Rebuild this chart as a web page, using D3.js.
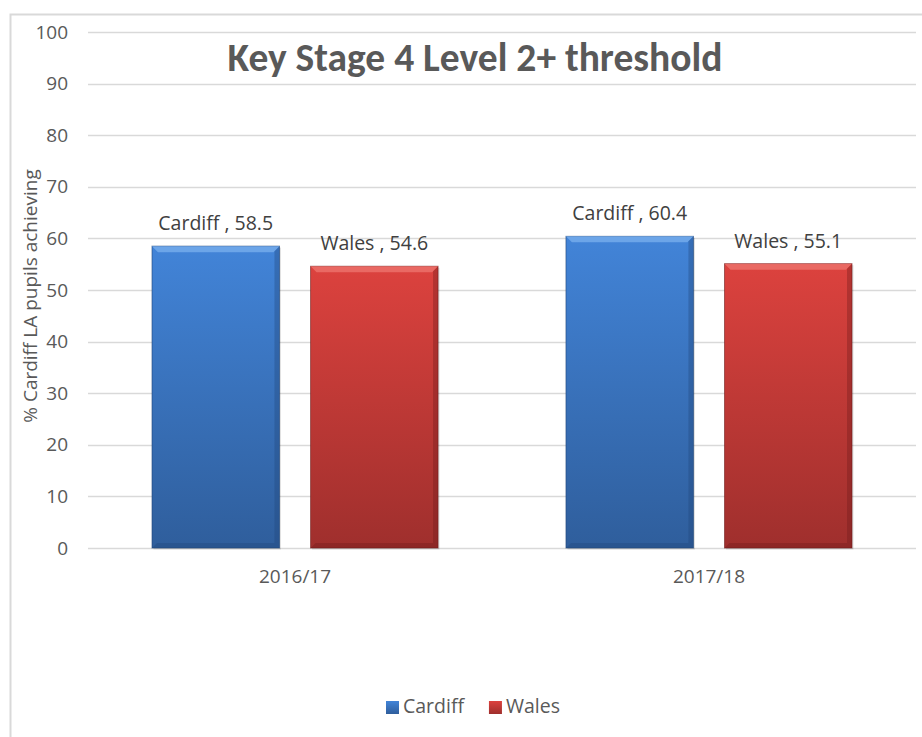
<!DOCTYPE html>
<html>
<head>
<meta charset="utf-8">
<script src="https://cdn.jsdelivr.net/npm/d3@7"></script>
<style>
  body { margin: 0; background: #fff; }
  text { font-family: "Open Sans", "Liberation Sans", sans-serif; }
  .title { font-family: Carlito, Calibri, Lato, "Open Sans", sans-serif; }
</style>
</head>
<body>
<div id="chart"></div>
<script>
// Data
var categories = ["2016/17", "2017/18"];
var seriesNames = ["Cardiff", "Wales"];
var cardiffValues = [58.5, 60.4];
var walesValues = [54.6, 55.1];
var yTicks = [0, 10, 20, 30, 40, 50, 60, 70, 80, 90, 100];
var titleText = "Key Stage 4 Level 2+ threshold";
var yLabel = "% Cardiff LA pupils achieving";

var svgW = 922, svgH = 737;
var margin = { top: 32, right: 6, bottom: 189, left: 88 };
var w = svgW - margin.left - margin.right;
var h = svgH - margin.top - margin.bottom;

var svg = d3.select("#chart").append("svg")
  .attr("width", svgW)
  .attr("height", svgH);

// Gradients for the bevelled bars
var defs = svg.append("defs");
var palette = {
  Cardiff: { top: "#4284d8", bottom: "#2f5e9c", light: "#7fb3f0", dark: "#1f4577" },
  Wales: { top: "#dc423e", bottom: "#9f2f2d", light: "#f07a74", dark: "#6e1b1a" }
};
seriesNames.forEach(function (s) {
  var g = defs.append("linearGradient")
    .attr("id", "grad-" + s)
    .attr("x1", 0).attr("y1", 0).attr("x2", 0).attr("y2", 1);
  g.append("stop").attr("offset", "0%").attr("stop-color", palette[s].top);
  g.append("stop").attr("offset", "100%").attr("stop-color", palette[s].bottom);
});

// Chart border (only top and left visible)
svg.append("path")
  .attr("d", "M10.5," + svgH + "V14.5H" + svgW)
  .attr("fill", "none")
  .attr("stroke", "#d9d9d9")
  .attr("stroke-width", 2);

var group = svg.append("g")
  .attr("transform", "translate(" + margin.left + "," + margin.top + ")");

// Scales
var x0 = d3.scaleBand()
  .domain(categories)
  .range([0, w])
  .paddingInner(0.309)
  .paddingOuter(0.1546);

var x1 = d3.scaleBand()
  .domain(seriesNames)
  .range([0, x0.bandwidth()])
  .paddingInner(0.196);

var yScale = d3.scaleLinear()
  .domain([0, 100])
  .range([h, 0]);

// Gridlines
group.selectAll(".grid")
  .data(yTicks)
  .enter().append("line")
  .attr("class", "grid")
  .attr("x1", 0)
  .attr("x2", w)
  .attr("y1", d => Math.round(yScale(d)) + 0.5)
  .attr("y2", d => Math.round(yScale(d)) + 0.5)
  .attr("stroke", "#d9d9d9")
  .attr("stroke-width", 1.5);

// Y-axis tick labels
var yAxis = d3.axisLeft(yScale).tickValues(yTicks).tickSize(0).tickPadding(20);
var yG = group.append("g").call(yAxis);
yG.select(".domain").remove();
yG.selectAll("text")
  .attr("fill", "#595959")
  .style("font-family", "'Open Sans', sans-serif")
  .style("font-size", "19px");

// X-axis labels
var xAxis = d3.axisBottom(x0).tickSize(0).tickPadding(22);
var xG = group.append("g")
  .attr("transform", "translate(0," + h + ")")
  .call(xAxis);
xG.select(".domain").remove();
xG.selectAll("text")
  .attr("fill", "#595959")
  .style("font-family", "'Open Sans', sans-serif")
  .style("font-size", "19px");

// Bars
var rows = categories.map(function (c, i) {
  return { category: c, values: [
    { series: "Cardiff", value: cardiffValues[i] },
    { series: "Wales", value: walesValues[i] }
  ] };
});

var catG = group.selectAll(".cat")
  .data(rows)
  .enter().append("g")
  .attr("class", "cat")
  .attr("transform", d => "translate(" + x0(d.category) + ",0)");

var barG = catG.selectAll(".bar")
  .data(d => d.values)
  .enter().append("g")
  .attr("class", "bar");

// soft shadow
barG.append("rect")
  .attr("x", d => x1(d.series) + 1.5)
  .attr("y", d => yScale(d.value) + 1.5)
  .attr("width", x1.bandwidth())
  .attr("height", d => h - yScale(d.value))
  .attr("fill", "#000")
  .attr("opacity", 0.12);

barG.append("rect")
  .attr("x", d => x1(d.series))
  .attr("y", d => yScale(d.value))
  .attr("width", x1.bandwidth())
  .attr("height", d => h - yScale(d.value))
  .attr("fill", d => "url(#grad-" + d.series + ")")
  .attr("stroke", d => palette[d.series].dark)
  .attr("stroke-opacity", 0.6)
  .attr("stroke-width", 1);

// bevel: light top strip
barG.append("path")
  .attr("d", function (d) {
    var x = x1(d.series), y = yScale(d.value), bw = x1.bandwidth(), b = 6;
    return "M" + x + "," + y + "H" + (x + bw) + "L" + (x + bw - b) + "," + (y + b) + "H" + (x + b) + "Z";
  })
  .attr("fill", d => palette[d.series].light)
  .attr("opacity", 0.7);

// bevel: dark right and bottom edges
barG.append("path")
  .attr("d", function (d) {
    var x = x1(d.series), y = yScale(d.value), bw = x1.bandwidth(), b = 5;
    return "M" + (x + bw) + "," + y + "V" + h + "H" + x + "L" + (x + b) + "," + (h - b) + "H" + (x + bw - b) + "V" + (y + b) + "Z";
  })
  .attr("fill", d => palette[d.series].dark)
  .attr("opacity", 0.35);

// Data labels
barG.append("text")
  .attr("x", d => x1(d.series) + x1.bandwidth() / 2)
  .attr("y", d => yScale(d.value) - 16)
  .attr("text-anchor", "middle")
  .attr("fill", "#404040")
  .style("font-size", "19.5px")
  .text(d => d.series + " , " + d.value.toFixed(1));

// Title
var title = svg.append("text")
  .attr("class", "title")
  .attr("x", 475)
  .attr("y", 71)
  .attr("text-anchor", "middle")
  .attr("fill", "#595959")
  .style("font-size", "31px")
  .style("font-weight", "bold")
  .text(titleText);
var tl = title.node().getComputedTextLength();
title.style("font-size", (31 * 495 / tl) + "px");

// Y-axis title
svg.append("text")
  .attr("transform", "translate(37," + (margin.top + h / 2 + 6) + ") rotate(-90)")
  .attr("text-anchor", "middle")
  .attr("fill", "#595959")
  .style("font-size", "19px")
  .text(yLabel);

// Legend
var legend = svg.append("g").attr("class", "legend");
var items = legend.selectAll(".item")
  .data(seriesNames)
  .enter().append("g")
  .attr("class", "item");
items.append("rect")
  .attr("width", 13)
  .attr("height", 13)
  .attr("y", 701)
  .attr("fill", d => "url(#grad-" + d + ")");
items.append("text")
  .attr("x", 17)
  .attr("y", 713)
  .attr("fill", "#595959")
  .style("font-size", "19.5px")
  .text(d => d);
var lx = 386;
items.each(function () {
  var g = d3.select(this);
  g.attr("transform", "translate(" + lx + ",0)");
  lx += this.getBBox().width + 24;
});
</script>
</body>
</html>
